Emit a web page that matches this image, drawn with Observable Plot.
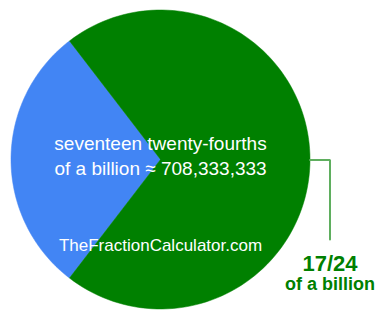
<!DOCTYPE html>
<html>
<head>
<meta charset="utf-8">
<script src="https://cdn.jsdelivr.net/npm/d3@7"></script>
<script src="https://cdn.jsdelivr.net/npm/@observablehq/plot@0.6"></script>
<style>
  html, body { margin: 0; padding: 0; background: #fff; }
  #chart svg { display: block; }
</style>
</head>
<body>
<div id="chart"></div>
<script>
// Data
const slices = ["rest", "fraction"];
const values = [7, 17];          // parts of 24
const colors = ["#4285f4", "#008000"];
const centerLines = ["seventeen twenty-fourths", "of a billion ≈ 708,333,333"];
const watermark = ["TheFractionCalculator.com"];
const sideLabel = ["17/24", "of a billion"];

// Layout (pixel-space coordinates)
const W = 385, H = 320;
const cx = 160, cy = 159, R = 149.5;
const total = d3.sum(values);

// Pie angles: green slice centred on the right (90° clockwise from top)
const greenSpan = values[1] / total * 2 * Math.PI;
const greenStart = Math.PI / 2 - greenSpan / 2;
const spans = [values[0] / total * 2 * Math.PI, greenSpan];
const starts = [greenStart + greenSpan, greenStart];

const pts = [];
slices.forEach((s, i) => {
  const n = 120;
  pts.push({slice: s, x: cx, y: cy});
  for (let k = 0; k <= n; k++) {
    const a = starts[i] + spans[i] * k / n;
    pts.push({slice: s, x: cx + R * Math.sin(a), y: cy - R * Math.cos(a)});
  }
  pts.push({slice: s, x: cx, y: cy});
});

// leader line from middle of green slice
const mid = greenStart + greenSpan / 2;
const ex = cx + R * Math.sin(mid), ey = cy - R * Math.cos(mid);
const leader = [
  {x: ex, y: ey + 0.5},
  {x: ex + 20, y: ey + 0.5},
  {x: ex + 20, y: ey + 80}
];

const font = "Arial, 'Liberation Sans', sans-serif";

const plot = Plot.plot({
  width: W,
  height: H,
  margin: 0,
  x: {domain: [0, W], range: [0, W], axis: null},
  y: {domain: [0, H], range: [0, H], axis: null},
  style: {fontFamily: font, background: "#fff"},
  marks: [
    ...slices.map((s, i) => Plot.line(pts.filter(d => d.slice === s), {
      x: "x", y: "y", fill: colors[i], stroke: colors[i], strokeWidth: 0.5, curve: "linear"
    })),
    Plot.line(leader, {x: "x", y: "y", stroke: "#5fae5f", strokeWidth: 2, strokeLinejoin: "miter"}),
    Plot.text(centerLines, {
      x: () => cx, y: (d, i) => 149 + i * 25, text: d => d,
      fill: "#fff", fontSize: 19, lineAnchor: "bottom", textAnchor: "middle"
    }),
    Plot.text(watermark, {
      x: () => cx, y: () => 250, text: d => d,
      fill: "#fff", fontSize: 17, lineAnchor: "bottom", textAnchor: "middle"
    }),
    Plot.text(sideLabel, {
      x: () => ex + 20, y: (d, i) => i === 0 ? 270 : 289, text: d => d,
      fill: "#008000", fontSize: (d, i) => i === 0 ? 22 : 18, fontWeight: "bold",
      lineAnchor: "bottom", textAnchor: "middle"
    })
  ]
});
document.getElementById("chart").appendChild(plot);
</script>
</body>
</html>
